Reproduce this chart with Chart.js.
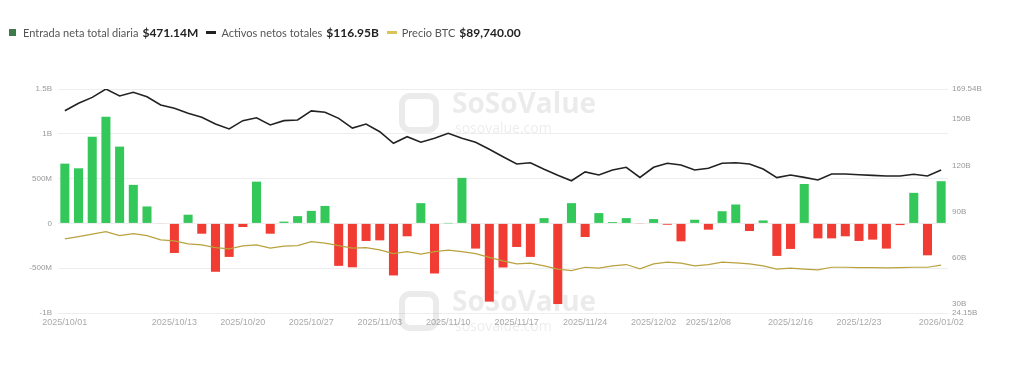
<!DOCTYPE html>
<html lang="es">
<head>
  <meta charset="UTF-8">
  <title>Flujos ETF BTC</title>
  <script src="https://cdn.jsdelivr.net/npm/chart.js"></script>
  <style>
    body {
      margin: 0;
      background: #ffffff;
      font-family: Lato, "Open Sans", sans-serif;
    }
    #wrap {
      position: relative;
      width: 1024px;
      height: 384px;
    }
    .legend {
      position: absolute;
      left: 9px;
      top: 25px;
      display: flex;
      align-items: center;
      font-size: 11px;
      color: #555;
      white-space: nowrap;
    }
    .legend b {
      color: #222;
      font-size: 12px;
      margin-left: 4px;
      margin-right: 8px;
    }
    .sq {
      width: 7px;
      height: 7px;
      background: #3f7a4c;
      margin-right: 7px;
    }
    .ln {
      width: 10px;
      height: 3px;
      margin-right: 5px;
    }
    canvas {
      position: absolute;
      left: 0;
      top: 0;
    }
  </style>
</head>
<body>
  <div id="wrap">
    <canvas id="flowChart" width="1024" height="384"></canvas>
    <div class="legend">
      <span class="sq"></span>Entrada neta total diaria<b>$471.14M</b>
      <span class="ln" style="background:#222"></span>Activos netos totales<b>$116.95B</b>
      <span class="ln" style="background:#d9c35a"></span>Precio BTC<b>$89,740.00</b>
    </div>
  </div>

  <script>
    const dates = [
      '2025/10/01','2025/10/02','2025/10/03','2025/10/06','2025/10/07','2025/10/08','2025/10/09','2025/10/10',
      '2025/10/13','2025/10/14','2025/10/15','2025/10/16','2025/10/17','2025/10/20','2025/10/21','2025/10/22',
      '2025/10/23','2025/10/24','2025/10/27','2025/10/28','2025/10/29','2025/10/30','2025/10/31',
      '2025/11/03','2025/11/04','2025/11/05','2025/11/06','2025/11/07','2025/11/10','2025/11/11','2025/11/12',
      '2025/11/13','2025/11/14','2025/11/17','2025/11/18','2025/11/19','2025/11/20','2025/11/21','2025/11/24',
      '2025/11/25','2025/11/26','2025/11/28',
      '2025/12/01','2025/12/02','2025/12/03','2025/12/04','2025/12/05','2025/12/08','2025/12/09','2025/12/10',
      '2025/12/11','2025/12/12','2025/12/15','2025/12/16','2025/12/17','2025/12/18','2025/12/19','2025/12/22',
      '2025/12/23','2025/12/24','2025/12/26','2025/12/29','2025/12/30','2025/12/31',
      '2026/01/02'
    ];

    // daily net inflow, millions USD
    const netInflow = [
      667, 615, 967, 1190, 857, 430, 189, -5,
      -330, 97, -115, -540, -374, -40, 466, -115,
      20, 81, 140, 195, -474, -490, -196,
      -189, -581, -144, 226, -559, 1, 508, -281,
      -873, -492, -263, -374, 59, -900, 226, -152,
      115, 15, 59,
      -4, 48, -15, -200, 41, -70, 136, 211,
      -85, 33, -363, -285, 440, -167, -167, -144,
      -196, -181, -281, -19, 341, -356,
      471
    ];

    // total net assets, billions USD
    const netAssets = [
      155.4, 160.3, 164.1, 169.5, 165.0, 167.4, 164.5, 159.2,
      157.0, 153.8, 151.2, 146.8, 143.6, 149.0, 150.9, 146.2,
      149.0, 149.4, 155.3, 154.4, 150.5, 144.2, 146.8,
      141.8, 134.3, 138.6, 135.0, 137.5, 140.8, 137.5, 135.0,
      130.4, 125.6, 120.9, 121.7, 117.4, 113.5, 110.0, 115.7,
      113.7, 117.0, 118.7,
      112.1, 118.7, 121.3, 120.2, 117.0, 118.1, 121.3, 121.7,
      120.9, 117.6, 112.0, 113.7, 112.2, 110.5, 114.4, 114.4,
      113.9, 113.5, 113.1, 113.1, 114.2, 113.1,
      116.95
    ];

    // BTC price, USD
    const btcPrice = [
      117100, 119500, 122000, 124700, 120500, 122600, 120500, 116000,
      115000, 111900, 110900, 108000, 106700, 109800, 110900, 107400,
      109500, 110100, 114300, 112600, 110100, 107400, 108000,
      105700, 101800, 103900, 101200, 103900, 105300, 103900, 101800,
      97900, 94200, 91100, 91800, 89000, 85600, 84100, 87600,
      86600, 89000, 90400,
      85900, 91100, 92900, 91800, 89000, 90400, 92900, 92100,
      91100, 89000, 85600, 86600, 85600, 84800, 87600, 87600,
      87200, 87200, 86900, 87200, 87600, 87600,
      89740
    ];

    const tickDates = ['2025/10/01','2025/10/13','2025/10/20','2025/10/27','2025/11/03','2025/11/10',
      '2025/11/17','2025/11/24','2025/12/02','2025/12/08','2025/12/16','2025/12/23','2026/01/02'];
    const rightTicks = [24.15, 30, 60, 90, 120, 150, 169.54];

    const watermark = {
      id: 'watermark',
      beforeDatasetsDraw(chart) {
        const ctx = chart.ctx;
        ctx.save();
        [88, 286].forEach(y0 => {
          ctx.strokeStyle = 'rgba(0,0,0,0.08)';
          ctx.lineWidth = 6;
          ctx.beginPath();
          ctx.roundRect(402, y0 + 8, 34, 34, 8);
          ctx.stroke();
          ctx.fillStyle = 'rgba(0,0,0,0.08)';
          ctx.font = 'bold 28px "Open Sans", sans-serif';
          ctx.textBaseline = 'top';
          ctx.fillText('SoSoValue', 452, y0 + 3);
          ctx.font = '14px "Open Sans", sans-serif';
          ctx.fillText('sosovalue.com', 455, y0 + 34);
        });
        ctx.restore();
      }
    };

    function fmtLeft(v) {
      if (v === 0) return '0';
      if (Math.abs(v) >= 1000) return (v / 1000) + 'B';
      return v + 'M';
    }

    new Chart(document.getElementById('flowChart'), {
      type: 'bar',
      data: {
        labels: dates,
        datasets: [
          {
            label: 'Activos netos totales',
            type: 'line',
            data: netAssets,
            yAxisID: 'y1',
            borderColor: '#222222',
            borderWidth: 1.6,
            pointRadius: 0,
            tension: 0,
            order: 1
          },
          {
            label: 'Precio BTC',
            type: 'line',
            data: btcPrice,
            yAxisID: 'y2',
            borderColor: '#b9a23e',
            borderWidth: 1.2,
            pointRadius: 0,
            tension: 0,
            order: 2
          },
          {
            label: 'Entrada neta total diaria',
            data: netInflow,
            yAxisID: 'y',
            backgroundColor: netInflow.map(v => v >= 0 ? '#34c75a' : '#f03c32'),
            categoryPercentage: 1,
            barPercentage: 0.66,
            order: 3
          }
        ]
      },
      options: {
        responsive: false,
        animation: false,
        layout: { padding: { top: 89, left: 0, right: 0, bottom: 0 } },
        plugins: {
          legend: { display: false },
          tooltip: { enabled: false }
        },
        scales: {
          x: {
            grid: { display: false, drawTicks: false },
            border: { display: false },
            afterFit(scale) { scale.height = 71; },
            ticks: {
              autoSkip: false,
              maxRotation: 0,
              padding: 4,
              color: '#aaaaaa',
              font: { size: 9 },
              callback(value, i) {
                return tickDates.includes(dates[i]) ? dates[i] : '';
              }
            }
          },
          y: {
            position: 'left',
            min: -1000,
            max: 1500,
            afterFit(scale) { scale.width = 58; },
            grid: { color: '#eeeeee', drawTicks: false },
            border: { display: false },
            ticks: {
              stepSize: 500,
              padding: 6,
              color: '#999999',
              font: { size: 8 },
              callback: v => fmtLeft(v)
            }
          },
          y1: {
            position: 'right',
            min: 24.15,
            max: 169.54,
            afterFit(scale) { scale.width = 76; },
            afterBuildTicks(scale) {
              scale.ticks = rightTicks.map(v => ({ value: v }));
            },
            grid: { display: false, drawTicks: false },
            border: { display: false },
            ticks: {
              autoSkip: false,
              padding: 4,
              color: '#999999',
              font: { size: 8 },
              callback: v => v + 'B'
            }
          },
          y2: {
            display: false,
            min: 40000,
            max: 273000
          }
        }
      },
      plugins: [watermark]
    });
  </script>
</body>
</html>
